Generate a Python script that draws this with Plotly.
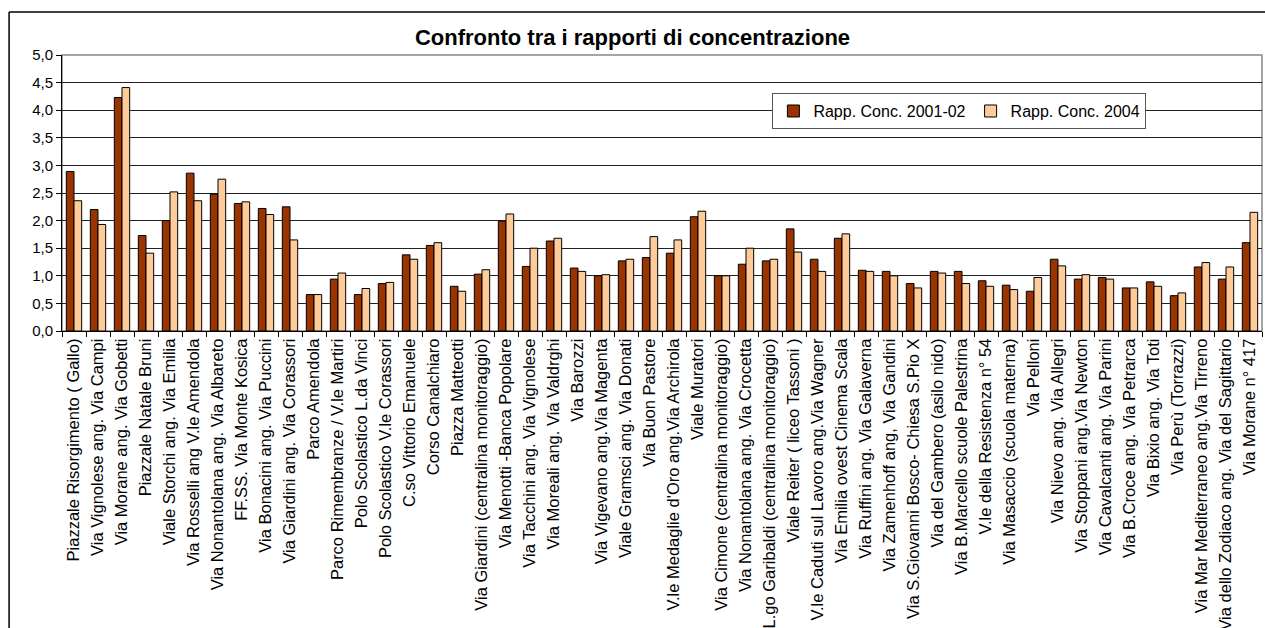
import plotly.graph_objects as go

stazioni = [
    "Piazzale Risorgimento ( Gallo)", "Via Vignolese ang. Via Campi", "Via Morane ang. Via Gobetti",
    "Piazzale Natale Bruni", "Viale Storchi ang. Via Emilia", "Via Rosselli ang V.le Amendola",
    "Via Nonantolana ang. Via Albareto", "FF.SS. Via Monte Kosica", "Via Bonacini ang. Via Puccini",
    "Via Giardini ang. Via Corassori", "Parco Amendola", "Parco Rimembranze / V.le Martiri",
    "Polo Scolastico L.da Vinci", "Polo Scolastico V.le Corassori", "C.so Vittorio Emanuele",
    "Corso Canalchiaro", "Piazza Matteotti", "Via Giardini (centralina monitoraggio)",
    "Via Menotti -Banca Popolare", "Via Tacchini ang. Via Vignolese", "Via Moreali ang. Via Valdrghi",
    "Via Barozzi", "Via Vigevano ang.Via Magenta", "Viale Gramsci ang. Via Donati",
    "Via Buon Pastore", "V.le Medaglie d'Oro ang.Via Archirola", "Viale Muratori",
    "Via Cimone (centralina monitoraggio)", "Via Nonantolana ang. Via Crocetta",
    "L.go Garibaldi (centralina monitoraggio)", "Viale Reiter ( liceo Tassoni )",
    "V.le Caduti sul Lavoro ang.Via Wagner", "Via Emilia ovest Cinema Scala",
    "Via Ruffini ang. Via Galaverna", "Via Zamenhoff ang, Via Gandini",
    "Via S.Giovanni Bosco- Chiesa S.Pio X", "Via del Gambero (asilo nido)",
    "Via B.Marcello scuole Palestrina", "V.le della Resistenza n° 54", "Via Masaccio (scuola materna)",
    "Via Pelloni", "Via Nievo ang. Via Allegri", "Via Stoppani ang.Via Newton",
    "Via Cavalcanti ang. Via Parini", "Via B.Croce ang. Via Petrarca", "Via Bixio ang. Via Toti",
    "Via Perù (Torrazzi)", "Via Mar Mediterraneo ang.Via Tirreno", "Via dello Zodiaco ang. Via del Sagittario",
    "Via Morane n° 417",
]

rapp_2001_02 = [
    2.89, 2.20, 4.23, 1.73, 2.00, 2.86, 2.48, 2.31, 2.22, 2.25,
    0.66, 0.94, 0.66, 0.86, 1.38, 1.55, 0.81, 1.03, 1.99, 1.17,
    1.63, 1.14, 1.00, 1.27, 1.33, 1.41, 2.07, 1.00, 1.21, 1.27,
    1.85, 1.30, 1.68, 1.10, 1.08, 0.86, 1.08, 1.08, 0.91, 0.83,
    0.72, 1.30, 0.94, 0.97, 0.78, 0.89, 0.64, 1.16, 0.94, 1.60,
]

rapp_2004 = [
    2.36, 1.93, 4.41, 1.41, 2.52, 2.36, 2.75, 2.34, 2.11, 1.65,
    0.66, 1.05, 0.77, 0.88, 1.30, 1.60, 0.72, 1.11, 2.12, 1.50,
    1.68, 1.08, 1.02, 1.30, 1.71, 1.65, 2.17, 1.00, 1.50, 1.30,
    1.43, 1.08, 1.76, 1.08, 1.00, 0.78, 1.05, 0.86, 0.81, 0.75,
    0.97, 1.18, 1.02, 0.94, 0.78, 0.81, 0.69, 1.24, 1.16, 2.15,
]

y_ticks = [0, 0.5, 1, 1.5, 2, 2.5, 3, 3.5, 4, 4.5, 5]

font = "Liberation Sans, Arial, sans-serif"

fig = go.Figure()
fig.add_trace(go.Bar(x=stazioni, y=rapp_2001_02, name="Rapp. Conc. 2001-02",
                     marker=dict(color="#993300", line=dict(color="black", width=1))))
fig.add_trace(go.Bar(x=stazioni, y=rapp_2004, name="Rapp. Conc. 2004",
                     marker=dict(color="#FFCC99", line=dict(color="black", width=1))))

# cornice esterna (solo lati visibili) e bordo grigio dell'area del grafico
fig.add_shape(type="line", xref="paper", yref="paper", x0=-0.0441, x1=-0.0441, y0=-1.2, y1=1.156,
              line=dict(color="black", width=1.5))
fig.add_shape(type="line", xref="paper", yref="paper", x0=-0.0441, x1=1.1, y0=1.156, y1=1.156,
              line=dict(color="black", width=1.5))
fig.add_shape(type="rect", xref="paper", yref="paper", x0=0, x1=1, y0=0, y1=1,
              line=dict(color="#888888", width=1.5), layer="below")

fig.update_layout(
    width=1265,
    height=628,
    barmode="group",
    bargap=0.36,
    bargroupgap=0,
    separators=",.",
    paper_bgcolor="white",
    plot_bgcolor="white",
    font=dict(family=font, size=15, color="black"),
    margin=dict(l=62, r=3, t=55, b=297, autoexpand=False),
    title=dict(text="<b>Confronto tra i rapporti di concentrazione</b>",
               x=0.5, xanchor="center", y=1 - 37 / 628, yanchor="middle", yref="container",
               font=dict(family=font, size=22, color="black")),
    xaxis=dict(
        type="category",
        tickangle=-90,
        tickson="boundaries",
        ticks="outside",
        ticklen=5,
        tickcolor="black",
        showline=True,
        linecolor="black",
        linewidth=1,
        showgrid=False,
        automargin=False,
        tickfont=dict(family=font, size=16.5, color="black"),
    ),
    yaxis=dict(
        range=[0, 5],
        tickvals=y_ticks,
        tickformat=".1f",
        ticks="outside",
        ticklen=5,
        tickcolor="black",
        showline=True,
        linecolor="black",
        linewidth=1,
        showgrid=True,
        gridcolor="#222222",
        gridwidth=1,
        zeroline=False,
        automargin=False,
        tickfont=dict(family=font, size=15, color="black"),
    ),
    legend=dict(
        orientation="h",
        x=0.592, xanchor="left",
        y=0.862, yanchor="top",
        bgcolor="white",
        bordercolor="#555555",
        borderwidth=1,
        font=dict(family=font, size=16, color="black"),
        itemwidth=30,
    ),
    showlegend=True,
)

fig.write_html("out.html", config={"displayModeBar": False},
               post_script="document.body.style.margin='0';document.body.style.overflow='hidden';")
